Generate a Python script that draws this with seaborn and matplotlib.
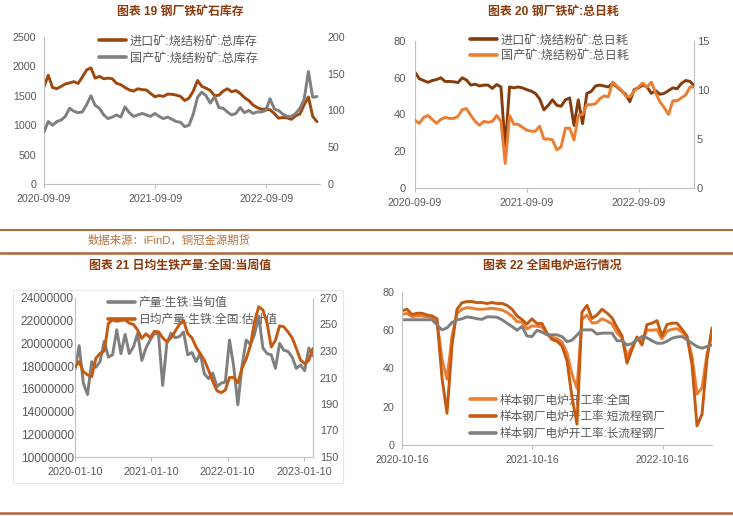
import pandas as pd
import matplotlib
matplotlib.use("Agg")
import matplotlib.pyplot as plt
from matplotlib.lines import Line2D
from matplotlib.patches import Rectangle
import seaborn as sns

# ─────────────────────────────────────────────
# Data (~biweekly samples)
# ─────────────────────────────────────────────

# 图表19 钢厂铁矿石库存, every 14 days from 2020-09-09
INV_START = "2020-09-09"
INV_IMPORT = [1654, 1850, 1640, 1620, 1660, 1700, 1720, 1740, 1710, 1820, 1940, 1975, 1800,
              1830, 1790, 1800, 1790, 1712, 1690, 1640, 1600, 1580, 1620, 1605, 1598, 1540,
              1484, 1505, 1490, 1530, 1525, 1512, 1490, 1420, 1460, 1580, 1760, 1660, 1630,
              1590, 1500, 1510, 1580, 1620, 1570, 1590, 1540, 1470, 1420, 1345, 1300, 1270,
              1275, 1260, 1200, 1120, 1130, 1125, 1100, 1160, 1190, 1350, 1480, 1150, 1060]
INV_DOMESTIC = [71, 85, 80, 85, 87, 92, 103, 99, 97, 98, 108, 120, 107, 103, 94, 89, 91, 94,
                91, 105, 97, 92, 94, 96, 94, 92, 96, 92, 89, 91, 88, 85, 84, 78, 80, 95, 118,
                125, 120, 110, 119, 104, 103, 98, 94, 96, 104, 97, 100, 96, 98, 98, 100, 116,
                102, 100, 95, 92, 92, 96, 103, 115, 153, 118, 119]
INV_XTICKS = ["2020-09-09", "2021-09-09", "2022-09-09"]
INV_XEND = "2023-03-04"

# 图表20 钢厂铁矿:总日耗, every 14 days from 2020-09-09
USE_START = "2020-09-09"
USE_IMPORT = [63, 59.5, 58.5, 57.5, 58.5, 59, 60, 58, 58, 57.8, 57.4, 60, 58.7, 56, 56.5,
              55.5, 56, 56, 54.2, 56.3, 55, 22, 55, 54.5, 55, 54.5, 53.5, 52.8, 51.5, 48.5,
              42.5, 45, 48, 45, 44.5, 48, 49, 34, 48, 35, 51.5, 52.5, 55.5, 56, 55.5, 55, 57,
              55, 53, 51, 47, 53.5, 54.5, 56, 55, 51.5, 53, 51, 51.5, 53, 54.5, 54, 56.9,
              58.5, 58, 55.5]
USE_DOMESTIC = [6.9, 6.6, 7.2, 7.4, 7.0, 6.6, 7.0, 7.2, 7.1, 7.1, 7.3, 8.0, 8.1, 7.4, 6.8,
                6.4, 6.8, 6.7, 6.8, 7.4, 6.8, 2.5, 7.4, 6.5, 6.5, 6.2, 5.9, 5.8, 5.8, 6.3,
                5.0, 5.0, 4.9, 3.9, 4.2, 6.1, 6.1, 4.9, 7.4, 7.5, 8.5, 8.5, 8.6, 9.1, 9.4,
                9.3, 10.8, 10.4, 10.0, 9.4, 9.3, 9.9, 10.3, 10.7, 10.3, 10.8, 9.7, 8.8, 8.2,
                7.5, 8.9, 8.9, 9.2, 9.5, 10.3, 10.3]
USE_XTICKS = ["2020-09-09", "2021-09-09", "2022-09-09"]
USE_XEND = "2023-03-07"

# 图表21 日均生铁产量, every 20 days from 2020-01-10
IRON_START = "2020-01-10"
IRON_OUTPUT = [17700000, 19800000, 16500000, 15500000, 18400000, 17900000, 18400000,
               20200000, 18800000, 19000000, 21200000, 19100000, 20800000, 19100000,
               19700000, 20900000, 18500000, 19600000, 20300000, 20900000, 20800000,
               16300000, 20000000, 20900000, 20500000, 20600000, 21000000, 19000000,
               19200000, 18400000, 19100000, 17300000, 16900000, 17400000, 16200000,
               16500000, 16600000, 20300000, 18000000, 14600000, 18000000, 20300000,
               19900000, 20800000, 22400000, 19600000, 19100000, 19000000, 17800000,
               20000000, 19400000, 19300000, 18800000, 17800000, 18100000, 17600000,
               19600000, 18900000]
IRON_DAILY = [218, 222, 214.4, 212, 210.6, 224.5, 228.2, 230, 250.9, 253.4, 252.5, 253,
              253.5, 251, 250, 245.8, 239.5, 243, 240, 244.8, 244.5, 240, 237, 240, 245,
              250, 253, 243, 240, 233, 228, 223, 215.5, 207, 200, 198.5, 200.5, 210, 210,
              206, 217, 224, 234, 252, 263.4, 261, 251, 233, 238, 249, 248.3, 244.5, 240,
              232, 223.2, 220.6, 223, 232]
IRON_XTICKS = ["2020-01-10", "2021-01-10", "2022-01-10", "2023-01-10"]
IRON_XEND = "2023-02-23"
IRON_YTICKS = [10000000, 12000000, 14000000, 16000000, 18000000, 20000000, 22000000, 24000000]

# 图表22 全国电炉运行情况, every 14 days from 2020-10-16
EAF_START = "2020-10-16"
EAF_ALL = [68.3, 68.8, 67.1, 67.5, 67.5, 67.0, 66.7, 64.7, 45, 34.4, 56.8, 68.8, 71, 71.8,
           71.6, 71, 71, 71.2, 71.5, 71.1, 70.6, 69.3, 67.4, 64.5, 64.2, 60.7, 62.3, 62.1,
           61.7, 58.1, 56.2, 55.6, 53.8, 48, 36.9, 29.6, 65.8, 67.9, 63.8, 64, 66, 64.8,
           63.3, 58.7, 56, 46.6, 51.2, 55.9, 54.1, 60.2, 60, 60.3, 55.5, 59.5, 60.5, 60.8,
           59, 56.2, 46.5, 26.6, 29.8, 47.6, 57.6]
EAF_SHORT = [70.1, 71, 68.2, 68.9, 68.9, 68, 67.5, 66, 35, 16.6, 52, 71, 74.4, 75, 75, 74.4,
             74.5, 74, 74.5, 74, 74, 73, 71, 67.5, 65.6, 63.2, 66, 63.5, 63.5, 58.5, 55.2,
             54.2, 51.8, 44, 25, 10.9, 69.5, 73, 66.2, 68, 71, 69, 66.5, 61.5, 57, 42.8, 50,
             56.5, 52.3, 63, 63.7, 65, 57, 63, 63.7, 63.7, 60.5, 57, 42, 10, 16, 45, 61.2]
EAF_LONG = [65.5, 65.5, 65.5, 65.5, 65.5, 65.5, 65.5, 62.8, 60.2, 61.2, 64, 65.4, 66, 67,
            66.6, 66, 65.7, 67, 67, 66.8, 65.5, 63.7, 62, 60, 62, 57, 56.7, 60, 59, 57.6,
            57.6, 57.6, 56.7, 54, 54.8, 57.5, 60.2, 60.2, 60.2, 58, 58.5, 58.5, 58.5, 54.5,
            54.5, 52.3, 53, 55, 56.7, 56, 54.5, 53.2, 53.2, 54.2, 55.8, 56.5, 56.7, 55, 53.2,
            51.5, 50.6, 51.5, 52.3]
EAF_XTICKS = ["2020-10-16", "2021-10-16", "2022-10-16"]
EAF_XEND = "2023-03-03"

# ─────────────────────────────────────────────
# Style
# ─────────────────────────────────────────────
BROWN  = "#9E480E"
DBROWN = "#843C0C"
ORANGE = "#ED7D31"
DORANG = "#C55A11"
GRAY   = "#7F7F7F"
SPINE  = "#BFBFBF"
TXT    = "#595959"
TITLE  = "#8B3A0A"
RULE   = "#B0643A"

sns.set_theme(style="white")
plt.rcParams["font.family"] = ["Liberation Sans", "Noto Sans CJK SC"]
plt.rcParams["axes.unicode_minus"] = False

fig = plt.figure(figsize=(7.33, 5.16), dpi=100)
W, H = 733, 516


def px_axes(left, top, right, bottom):
    return fig.add_axes([left / W, 1 - bottom / H, (right - left) / W, (bottom - top) / H])


def frame(ax, xticks, xend, xsize, left_pad, right_spine=False):
    for s in ("top", "right"):
        ax.spines[s].set_visible(False)
    for s in ("left", "bottom"):
        ax.spines[s].set_color(SPINE)
        ax.spines[s].set_linewidth(0.8)
    ax.set_xlim(pd.Timestamp(xticks[0]), pd.Timestamp(xend))
    ax.set_xticks(pd.to_datetime(xticks))
    ax.set_xticklabels(xticks)
    ax.tick_params(axis="x", direction="out", length=3, width=0.8, color=SPINE,
                   labelsize=xsize, labelcolor=TXT, pad=4, bottom=True)
    ax.tick_params(axis="y", length=0, labelcolor=TXT, pad=left_pad)
    ax.set_xlabel("")
    ax.set_ylabel("")
    ax.grid(False)
    if right_spine:
        ax.spines["right"].set_visible(True)
        ax.spines["right"].set_color(SPINE)
        ax.spines["right"].set_linewidth(0.8)


def twin_frame(ax2, pad, right_spine=False):
    for s in ("top", "left", "bottom", "right"):
        ax2.spines[s].set_visible(False)
    if right_spine:
        ax2.spines["right"].set_visible(True)
        ax2.spines["right"].set_color(SPINE)
        ax2.spines["right"].set_linewidth(0.8)
    ax2.tick_params(axis="y", length=0, labelcolor=TXT, pad=pad)
    ax2.set_ylabel("")
    ax2.grid(False)


def add_legend(ax, colors, labels, anchor, size, spacing=0.42):
    handles = [Line2D([0], [0], color=c, lw=2.6) for c in colors]
    leg = ax.legend(handles, labels, loc="upper left", bbox_to_anchor=anchor,
                    frameon=False, fontsize=size, handlelength=2.25, handletextpad=0.3,
                    labelspacing=spacing, borderaxespad=0, borderpad=0)
    for t in leg.get_texts():
        t.set_color(TXT)
    leg.set_zorder(1)
    return leg


LW = 2.1

# ── 图表19 ──
df = pd.DataFrame({"date": pd.date_range(INV_START, periods=len(INV_IMPORT), freq="14D"),
                   "imp": INV_IMPORT, "dom": INV_DOMESTIC})
ax = px_axes(44, 37, 320, 184)
sns.lineplot(data=df, x="date", y="imp", ax=ax, color=BROWN, lw=LW)
ax.set_ylim(0, 2500)
ax.set_yticks([0, 500, 1000, 1500, 2000, 2500])
ax.tick_params(axis="y", labelsize=7.7)
frame(ax, INV_XTICKS, INV_XEND, 7.7, 5.5)
ax2 = ax.twinx()
sns.lineplot(data=df, x="date", y="dom", ax=ax2, color=GRAY, lw=LW)
ax2.set_ylim(0, 200)
ax2.set_yticks([0, 50, 100, 150, 200])
ax2.tick_params(axis="y", labelsize=7.7)
twin_frame(ax2, 5.5)
add_legend(ax, [BROWN, GRAY], ["进口矿:烧结粉矿:总库存", "国产矿:烧结粉矿:总库存"],
           (0.2, 1.01), 8.7)

# ── 图表20 ──
df = pd.DataFrame({"date": pd.date_range(USE_START, periods=len(USE_IMPORT), freq="14D"),
                   "imp": USE_IMPORT, "dom": USE_DOMESTIC})
ax = px_axes(415, 41, 694, 188)
sns.lineplot(data=df, x="date", y="imp", ax=ax, color=DBROWN, lw=LW)
ax.set_ylim(0, 80)
ax.set_yticks([0, 20, 40, 60, 80])
ax.tick_params(axis="y", labelsize=8)
frame(ax, USE_XTICKS, USE_XEND, 7.7, 6.5)
ax2 = ax.twinx()
sns.lineplot(data=df, x="date", y="dom", ax=ax2, color=ORANGE, lw=LW)
ax2.set_ylim(0, 15)
ax2.set_yticks([0, 5, 10, 15])
ax2.tick_params(axis="y", labelsize=8)
twin_frame(ax2, 2, right_spine=True)
add_legend(ax, [DBROWN, ORANGE], ["进口矿:烧结粉矿:总日耗", "国产矿:烧结粉矿:总日耗"],
           (0.197, 1.045), 8.7, spacing=0.3)

# ── 图表21 ──
df = pd.DataFrame({"date": pd.date_range(IRON_START, periods=len(IRON_OUTPUT), freq="20D"),
                   "out": IRON_OUTPUT, "daily": IRON_DAILY})
ax = px_axes(75, 298, 313, 457)
sns.lineplot(data=df, x="date", y="out", ax=ax, color=GRAY, lw=LW)
ax.set_ylim(IRON_YTICKS[0], IRON_YTICKS[-1])
ax.set_yticks(IRON_YTICKS)
ax.set_yticklabels([str(v) for v in IRON_YTICKS])
ax.tick_params(axis="y", labelsize=8.6)
frame(ax, IRON_XTICKS, IRON_XEND, 7.8, 1)
ax2 = ax.twinx()
sns.lineplot(data=df, x="date", y="daily", ax=ax2, color=DORANG, lw=LW)
ax2.set_ylim(150, 270)
ax2.set_yticks([150, 170, 190, 210, 230, 250, 270])
ax2.tick_params(axis="y", labelsize=7.9)
twin_frame(ax2, 5, right_spine=True)
add_legend(ax, [GRAY, DORANG], ["产量:生铁:当旬值", "日均产量:生铁:全国:估计值"],
           (0.14, 1.005), 8.5)

# ── 图表22 ──
df = pd.DataFrame({"date": pd.date_range(EAF_START, periods=len(EAF_ALL), freq="14D"),
                   "all": EAF_ALL, "short": EAF_SHORT, "long": EAF_LONG})
ax = px_axes(402, 292, 712, 445)
sns.lineplot(data=df, x="date", y="all", ax=ax, color=ORANGE, lw=LW)
sns.lineplot(data=df, x="date", y="short", ax=ax, color=DORANG, lw=LW)
sns.lineplot(data=df, x="date", y="long", ax=ax, color=GRAY, lw=LW)
ax.set_ylim(0, 80)
ax.set_yticks([0, 20, 40, 60, 80])
ax.tick_params(axis="y", labelsize=7.7)
frame(ax, EAF_XTICKS, EAF_XEND, 7.6, 5.5)
add_legend(ax, [ORANGE, DORANG, GRAY],
           ["样本钢厂电炉开工率:全国", "样本钢厂电炉开工率:短流程钢厂", "样本钢厂电炉开工率:长流程钢厂"],
           (0.218, 0.33), 8.4, spacing=0.4)

# ─────────────────────────────────────────────
# Page furniture: titles, source, rules
# ─────────────────────────────────────────────
for x, y, s in [(180, 12, "图表 19 钢厂铁矿石库存"),
                (553, 12, "图表 20 钢厂铁矿:总日耗"),
                (180, 266, "图表 21 日均生铁产量:全国:当周值"),
                (552, 266, "图表 22 全国电炉运行情况")]:
    fig.text(x / W, 1 - y / H, s, ha="center", va="center", fontsize=8.6,
             fontweight="bold", color=TITLE)

fig.text(169 / W, 1 - 240 / H, "数据来源：iFinD，铜冠金源期货", ha="center", va="center",
         fontsize=8.2, color="#B8703A")

for y, lw in [(229.5, 1.4), (252.5, 1.8), (513, 1.8)]:
    fig.add_artist(Line2D([0, 1], [1 - y / H, 1 - y / H], transform=fig.transFigure,
                          color=RULE, lw=lw))

fig.add_artist(Rectangle((13 / W, 1 - 483 / H), 330 / W, 193 / H, transform=fig.transFigure,
                         fill=False, edgecolor="#E8E8E8", lw=0.8))

plt.savefig("out.png", dpi=100)
plt.close()
print("Saved: out.png")
